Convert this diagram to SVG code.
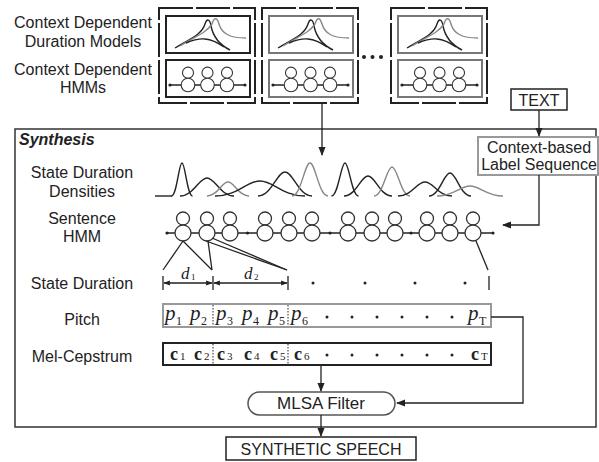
<svg xmlns="http://www.w3.org/2000/svg" xmlns:xlink="http://www.w3.org/1999/xlink" width="599" height="462" viewBox="0 0 599 462">
<defs>
<style>
.lbl{font-family:"Liberation Sans",Arial,sans-serif;font-size:16px;fill:#222;text-anchor:middle}
.ln{fill:none;stroke:#222;stroke-width:1.3}
.blk{fill:none;stroke:#222;stroke-width:1.4}
.gry{fill:none;stroke:#888;stroke-width:1.4}
.frame{fill:#fff;stroke:#222;stroke-width:2;stroke-dasharray:34 3}
.pv{font-family:"Liberation Serif","Times New Roman",serif;font-style:italic;font-size:21px;fill:#222}
.ps{font-family:"Liberation Serif","Times New Roman",serif;font-size:12px;fill:#222}
.cv{font-family:"Liberation Serif","Times New Roman",serif;font-weight:bold;font-size:18px;fill:#222}
.cs{font-family:"Liberation Serif","Times New Roman",serif;font-size:11px;fill:#222}
.sep{stroke:#222;stroke-width:1;stroke-dasharray:1.5 1.5}
.dot{fill:#222}
</style>
<marker id="ah" viewBox="0 0 10 10" refX="9" refY="5" markerWidth="7" markerHeight="7" orient="auto-start-reverse">
<path d="M0,1 L10,5 L0,9 z" fill="#222"/>
</marker>
<marker id="ahs" viewBox="0 0 10 10" refX="9" refY="5" markerWidth="5" markerHeight="5" orient="auto-start-reverse">
<path d="M0,1 L10,5 L0,9 z" fill="#222"/>
</marker>
<g id="st8">
<circle cx="0" cy="-14.5" r="6.5" fill="#fff" stroke="#333" stroke-width="1.3"/>
<circle cx="0" cy="0" r="8" fill="#fff" stroke="#333" stroke-width="1.3"/>
</g>
<g id="model">
<rect x="159" y="8" width="96" height="95" class="frame"/>
<path d="M175,48 C192,38 202,34 205,24 C207,18 210,19 211,26 C213,36 218,44 230,50" class="blk"/>
<path d="M180,46 C196,36 206,33 212,24 C214,17 217,17 219,24 C222,34 230,38 246,38" class="gry"/>
<path d="M186,43 C200,37 210,37 224,47" class="blk"/>
<line x1="170" y1="85" x2="245" y2="85" class="ln"/>
<circle cx="170" cy="85" r="1.6" class="dot"/>
<circle cx="245" cy="85" r="1.6" class="dot"/>
<use xlink:href="#st8" transform="translate(188,85) scale(0.85)"/>
<use xlink:href="#st8" transform="translate(207.5,85) scale(0.85)"/>
<use xlink:href="#st8" transform="translate(227,85) scale(0.85)"/>
</g>
</defs>

<g id="labels">
<text class="lbl" x="83" y="28">Context Dependent</text>
<text class="lbl" x="83" y="47">Duration Models</text>
<text class="lbl" x="83" y="75">Context Dependent</text>
<text class="lbl" x="83" y="93">HMMs</text>
<text class="lbl" x="82" y="178">State Duration</text>
<text class="lbl" x="82" y="197">Densities</text>
<text class="lbl" x="82" y="224">Sentence</text>
<text class="lbl" x="82" y="242">HMM</text>
<text class="lbl" x="82" y="289">State Duration</text>
<text class="lbl" x="82" y="325">Pitch</text>
<text class="lbl" x="82" y="362">Mel-Cepstrum</text>
</g>

<g id="model-1">
<use xlink:href="#model"/>
<rect x="166" y="16" width="84" height="37" fill="none" stroke="#222" stroke-width="2"/>
<rect x="166" y="60" width="84" height="37" fill="none" stroke="#222" stroke-width="2"/>
</g>
<g id="model-2">
<use xlink:href="#model" transform="translate(103,0)"/>
<rect x="269" y="16" width="84" height="37" fill="none" stroke="#777" stroke-width="2"/>
<rect x="269" y="60" width="84" height="37" fill="none" stroke="#777" stroke-width="2"/>
</g>
<g id="ellipsis">
<circle cx="364" cy="57" r="2" class="dot"/>
<circle cx="372.5" cy="57" r="2" class="dot"/>
<circle cx="381" cy="57" r="2" class="dot"/>
</g>
<g id="model-3">
<use xlink:href="#model" transform="translate(232,0)"/>
<rect x="398" y="16" width="84" height="37" fill="none" stroke="#777" stroke-width="2"/>
<rect x="398" y="60" width="84" height="37" fill="none" stroke="#777" stroke-width="2"/>
</g>

<g id="text-node">
<rect x="511" y="89" width="56" height="21" fill="#fff" stroke="#222" stroke-width="1.5"/>
<text class="lbl" x="539" y="106">TEXT</text>
</g>

<g id="synthesis">
<rect x="15" y="129" width="581" height="298" fill="none" stroke="#333" stroke-width="1.5"/>
<text x="19" y="145" style="font-family:'Liberation Sans',Arial,sans-serif;font-size:16px;font-weight:bold;font-style:italic;fill:#222">Synthesis</text>
</g>

<g id="context-label">
<rect x="478" y="137" width="120" height="38" fill="#fff" stroke="#999" stroke-width="2"/>
<text class="lbl" x="539" y="153">Context-based</text>
<text class="lbl" x="539" y="170">Label Sequence</text>
</g>

<g id="densities">
<line x1="155" y1="196" x2="172" y2="196" class="blk"/>
<path d="M171.5,196 C176.75,196 178.85,163 182,163 C185.15,163 187.25,196 192.5,196" class="blk"/>
<path d="M180,196 C193.5,196 198.9,178 207,178 C215.1,178 220.5,196 234,196" class="blk"/>
<path d="M207,196 C217.5,196 221.7,182 228,182 C234.3,182 238.5,196 249,196" class="gry"/>
<path d="M215,196 C237.5,196 246.5,181 260,181 C273.5,181 282.5,196 305,196" class="blk"/>
<path d="M258,196 C271.5,196 276.9,172 285,172 C293.1,172 298.5,196 312,196" class="blk"/>
<path d="M292,196 C301,196 304.6,163 310,163 C315.4,163 319,196 328,196" class="gry"/>
<path d="M331.5,196 C338.25,196 340.95,163 345,163 C349.05,163 351.75,196 358.5,196" class="blk"/>
<path d="M344,196 C356,196 360.8,176 368,176 C375.2,176 380,196 392,196" class="blk"/>
<path d="M374,196 C383,196 386.6,167 392,167 C397.4,167 401,196 410,196" class="gry"/>
<path d="M398,196 C411.5,196 416.9,182 425,182 C433.1,182 438.5,196 452,196" class="blk"/>
<path d="M429,196 C439.5,196 443.7,173 450,173 C456.3,173 460.5,196 471,196" class="blk"/>
<path d="M437,196 C453.5,196 460.1,186 470,186 C479.9,186 486.5,196 503,196" class="gry"/>
</g>

<g id="sentence-hmm">
<line x1="167" y1="233" x2="493" y2="233" class="ln"/>
<circle cx="167" cy="233" r="1.6" class="dot"/>
<circle cx="247.5" cy="233" r="1.6" class="dot"/>
<circle cx="330" cy="233" r="1.6" class="dot"/>
<circle cx="411" cy="233" r="1.6" class="dot"/>
<circle cx="493" cy="233" r="1.6" class="dot"/>
<use xlink:href="#st8" transform="translate(183,233)"/>
<use xlink:href="#st8" transform="translate(207,233)"/>
<use xlink:href="#st8" transform="translate(230,233)"/>
<use xlink:href="#st8" transform="translate(265,233)"/>
<use xlink:href="#st8" transform="translate(289,233)"/>
<use xlink:href="#st8" transform="translate(312,233)"/>
<use xlink:href="#st8" transform="translate(348,233)"/>
<use xlink:href="#st8" transform="translate(372,233)"/>
<use xlink:href="#st8" transform="translate(395,233)"/>
<use xlink:href="#st8" transform="translate(427,233)"/>
<use xlink:href="#st8" transform="translate(450,233)"/>
<use xlink:href="#st8" transform="translate(473,233)"/>
</g>

<g id="state-duration">
<line x1="163" y1="276" x2="163" y2="290" class="ln"/>
<line x1="213" y1="276" x2="213" y2="290" class="ln"/>
<line x1="288" y1="276" x2="288" y2="290" class="ln"/>
<line x1="489" y1="276" x2="489" y2="290" class="ln"/>
<line x1="164" y1="283" x2="212" y2="283" class="ln" marker-start="url(#ahs)" marker-end="url(#ahs)"/>
<line x1="214" y1="283" x2="287" y2="283" class="ln" marker-start="url(#ahs)" marker-end="url(#ahs)"/>
<text x="181" y="279" style="font-family:'Liberation Serif',serif;font-style:italic;font-size:17px;fill:#222">d</text>
<text x="191" y="280" style="font-family:'Liberation Serif',serif;font-size:9px;fill:#222">1</text>
<text x="244" y="279" style="font-family:'Liberation Serif',serif;font-style:italic;font-size:17px;fill:#222">d</text>
<text x="254" y="280" style="font-family:'Liberation Serif',serif;font-size:9px;fill:#222">2</text>
<circle cx="313" cy="283" r="1.5" class="dot"/>
<circle cx="365" cy="283" r="1.5" class="dot"/>
<circle cx="415" cy="283" r="1.5" class="dot"/>
<circle cx="465" cy="283" r="1.5" class="dot"/>
</g>

<g id="pitch">
<rect x="163" y="304" width="328" height="23" fill="#fff" stroke="#999" stroke-width="2"/>
<line x1="213" y1="305" x2="213" y2="326" class="sep"/>
<line x1="288" y1="305" x2="288" y2="326" class="sep"/>
<text class="pv" x="165" y="320">p</text><text class="ps" x="176" y="325">1</text>
<text class="pv" x="190" y="320">p</text><text class="ps" x="201" y="325">2</text>
<text class="pv" x="216" y="320">p</text><text class="ps" x="227" y="325">3</text>
<text class="pv" x="242" y="320">p</text><text class="ps" x="253" y="325">4</text>
<text class="pv" x="268" y="320">p</text><text class="ps" x="279" y="325">5</text>
<text class="pv" x="291" y="320">p</text><text class="ps" x="302" y="325">6</text>
<circle cx="327" cy="317" r="1.5" class="dot"/>
<circle cx="352" cy="317" r="1.5" class="dot"/>
<circle cx="377" cy="317" r="1.5" class="dot"/>
<circle cx="402" cy="317" r="1.5" class="dot"/>
<circle cx="427" cy="317" r="1.5" class="dot"/>
<circle cx="452" cy="317" r="1.5" class="dot"/>
<text class="pv" x="468" y="320">p</text><text class="ps" x="479" y="325">T</text>
</g>

<g id="mel-cepstrum">
<rect x="163" y="343" width="328" height="22" fill="#fff" stroke="#222" stroke-width="2"/>
<line x1="213" y1="344" x2="213" y2="364" class="sep"/>
<line x1="288" y1="344" x2="288" y2="364" class="sep"/>
<text class="cv" x="170" y="360">c</text><text class="cs" x="180" y="360">1</text>
<text class="cv" x="194" y="360">c</text><text class="cs" x="204" y="360">2</text>
<text class="cv" x="217" y="360">c</text><text class="cs" x="227" y="360">3</text>
<text class="cv" x="244" y="360">c</text><text class="cs" x="254" y="360">4</text>
<text class="cv" x="270" y="360">c</text><text class="cs" x="280" y="360">5</text>
<text class="cv" x="294" y="360">c</text><text class="cs" x="304" y="360">6</text>
<circle cx="327" cy="355" r="1.5" class="dot"/>
<circle cx="352" cy="355" r="1.5" class="dot"/>
<circle cx="377" cy="355" r="1.5" class="dot"/>
<circle cx="402" cy="355" r="1.5" class="dot"/>
<circle cx="427" cy="355" r="1.5" class="dot"/>
<circle cx="452" cy="355" r="1.5" class="dot"/>
<text class="cv" x="471" y="360">c</text><text class="cs" x="481" y="360">T</text>
</g>

<g id="mlsa">
<rect x="248" y="392" width="147" height="23" rx="11.5" ry="11.5" fill="#fff" stroke="#555" stroke-width="1.5"/>
<text class="lbl" x="321" y="409" style="font-size:17px">MLSA Filter</text>
</g>

<g id="speech">
<rect x="226" y="437" width="190" height="23" fill="#fff" stroke="#222" stroke-width="1.5"/>
<text class="lbl" x="321" y="455">SYNTHETIC SPEECH</text>
</g>

<g id="connectors">
<line x1="322" y1="104" x2="322" y2="155" class="ln" marker-end="url(#ah)"/>
<line x1="539" y1="110" x2="539" y2="136" class="ln" marker-end="url(#ah)"/>
<polyline points="539,175 539,225 503,225" class="ln" marker-end="url(#ah)"/>
<line x1="183" y1="241" x2="163" y2="270" class="ln"/>
<line x1="183" y1="241" x2="212" y2="270" class="ln"/>
<line x1="208" y1="241" x2="212" y2="270" class="ln"/>
<line x1="206" y1="241" x2="287" y2="270" class="ln"/>
<line x1="212" y1="238" x2="287" y2="270" class="ln"/>
<line x1="476" y1="241" x2="488" y2="270" class="ln"/>
<polyline points="491,317 523,317 523,403 397,403" class="ln" marker-end="url(#ah)"/>
<line x1="321" y1="365" x2="321" y2="391" class="ln" marker-end="url(#ah)"/>
<line x1="321" y1="415" x2="321" y2="436" class="ln" marker-end="url(#ah)"/>
</g>
</svg>
